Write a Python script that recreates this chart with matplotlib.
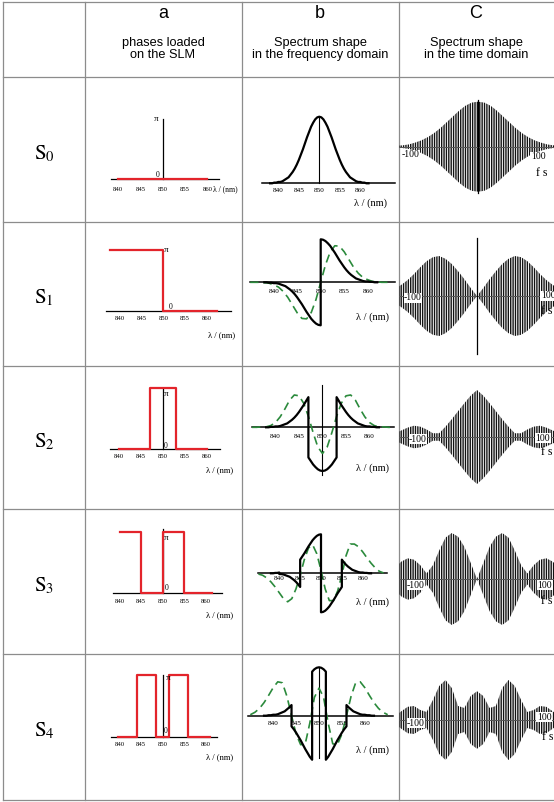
import numpy as np
import matplotlib
matplotlib.use('Agg')
import matplotlib.pyplot as plt

plt.rcParams['mathtext.fontset'] = 'stix'
plt.rcParams['hatch.linewidth'] = 1.0

W, H = 554, 802

# ---------------- data ----------------
col_letters = ['a', 'b', 'C']
col_titles = ['phases loaded\non the SLM',
              'Spectrum shape\nin the frequency domain',
              'Spectrum shape\nin the time domain']
row_names = [r'$\mathrm{S}_0$', r'$\mathrm{S}_1$', r'$\mathrm{S}_2$',
             r'$\mathrm{S}_3$', r'$\mathrm{S}_4$']
tick_nm = [840, 845, 850, 855, 860]
tick_fs = [-100, 100]

# phase masks loaded on the SLM (wavelength in nm, phase in rad)
mask_nm = [
    [840, 860],
    [837.5, 850, 850, 862.5],
    [840, 847, 847, 853, 853, 860],
    [840, 845, 845, 850, 850, 855, 855, 861.5],
    [839.5, 844, 844, 848.5, 848.5, 851.5, 851.5, 856, 856, 861],
]
mask_phase = [
    [0, 0],
    [np.pi, np.pi, 0, 0],
    [0, 0, np.pi, np.pi, 0, 0],
    [np.pi, np.pi, 0, 0, np.pi, np.pi, 0, 0],
    [0, 0, np.pi, np.pi, 0, 0, np.pi, np.pi, 0, 0],
]

# spectral amplitude, 838 - 862 nm in 0.5 nm steps
spec_nm = np.arange(838, 862.5, 0.5)
spec_amp = [0.00, 0.00, 0.01, 0.01, 0.02, 0.02, 0.03, 0.05, 0.07, 0.09, 0.13, 0.17,
            0.22, 0.28, 0.35, 0.43, 0.51, 0.60, 0.69, 0.77, 0.85, 0.91, 0.96, 0.99,
            1.00,
            0.99, 0.96, 0.91, 0.85, 0.77, 0.69, 0.60, 0.51, 0.43, 0.35, 0.28, 0.22,
            0.17, 0.13, 0.09, 0.07, 0.05, 0.03, 0.02, 0.02, 0.01, 0.01, 0.00, 0.00]

# green dashed curves, 835 - 865 nm in 1 nm steps
green_nm = np.arange(835, 866)
green_S1 = [0, 0, 0, -0.01, -0.02, -0.06, -0.11, -0.21, -0.35, -0.53, -0.71, -0.84,
            -0.85, -0.70, -0.40, 0, 0.40, 0.70, 0.85, 0.84, 0.71, 0.53, 0.35, 0.21,
            0.11, 0.06, 0.02, 0.01, 0, 0, 0]
green_S2 = [0, 0, 0.01, 0.01, 0.04, 0.11, 0.24, 0.42, 0.62, 0.74, 0.72, 0.55, 0.25,
            -0.12, -0.45, -0.60, -0.45, -0.12, 0.25, 0.55, 0.72, 0.74, 0.62, 0.42,
            0.24, 0.11, 0.04, 0.01, 0.01, 0, 0]
green_S3 = [-0.02, -0.05, -0.12, -0.22, -0.35, -0.50, -0.65, -0.73, -0.65, -0.40,
            -0.05, 0.35, 0.65, 0.73, 0.50, 0.08, -0.40, -0.70, -0.70, -0.45, -0.05,
            0.45, 0.75, 0.75, 0.68, 0.55, 0.40, 0.26, 0.14, 0.05, 0.01]
green_S4 = [0.02, 0.07, 0.15, 0.27, 0.42, 0.58, 0.70, 0.68, 0.40, 0.0, -0.38, -0.60,
            -0.58, -0.15, 0.38, 0.57, 0.38, -0.15, -0.58, -0.60, -0.38, 0.0, 0.40,
            0.68, 0.70, 0.58, 0.42, 0.27, 0.15, 0.07, 0.02]
green_curves = [None, green_S1, green_S2, green_S3, green_S4]

# pulse envelopes in the time domain, -130 .. 130 fs in 10 fs steps
time_fs = np.arange(-130, 131, 10)
env_S0 = [0.02, 0.03, 0.05, 0.09, 0.14, 0.21, 0.30, 0.41, 0.54, 0.67, 0.80, 0.91, 0.98,
          1.00, 0.98, 0.91, 0.80, 0.67, 0.54, 0.41, 0.30, 0.21, 0.14, 0.09, 0.05, 0.03, 0.02]
env_S1 = [0.18, 0.28, 0.40, 0.55, 0.72, 0.87, 0.97, 1.00, 0.93, 0.80, 0.62, 0.42, 0.20,
          0.00, 0.20, 0.42, 0.62, 0.80, 0.93, 1.00, 0.97, 0.87, 0.72, 0.55, 0.40, 0.28, 0.18]
env_S2 = [0.08, 0.14, 0.20, 0.24, 0.22, 0.16, 0.08, 0.08, 0.22, 0.38, 0.55, 0.72, 0.88,
          1.00, 0.88, 0.72, 0.55, 0.38, 0.22, 0.08, 0.08, 0.16, 0.22, 0.24, 0.20, 0.14, 0.08]
env_S3 = [0.25, 0.38, 0.45, 0.42, 0.30, 0.12, 0.30, 0.62, 0.90, 1.00, 0.92, 0.70, 0.35,
          0.00, 0.35, 0.70, 0.92, 1.00, 0.90, 0.62, 0.30, 0.12, 0.30, 0.42, 0.45, 0.38, 0.25]
env_S4 = [0.10, 0.22, 0.33, 0.35, 0.25, 0.20, 0.50, 0.85, 1.00, 0.80, 0.35, 0.30, 0.60,
          0.72, 0.60, 0.30, 0.35, 0.80, 1.00, 0.85, 0.50, 0.20, 0.25, 0.35, 0.33, 0.22, 0.10]
envelopes = [env_S0, env_S1, env_S2, env_S3, env_S4]

# ---------------- layout (pixels) ----------------
grid_x = [3, 85, 242, 399]
grid_y = [2, 77, 222, 366, 509, 654, 800]
RED = '#e3242b'
GREEN = '#2b8a3c'
SERIF = 'Liberation Serif'
SANS = 'Liberation Sans'

# column a: 850 nm x, px/nm, axis y, px for pi, axis extent, tick dy, lambda label,
#           pi label offset, 0 label offset, black marker line height (in pi)
a_geom = [
    (162.7, 4.47, 179.3, 60.0, (838.5, 862.5), 10, (225, 189), (-7, 0), (-5, 4), 1.0),
    (163.3, 4.30, 310.7, 60.7, (836.6, 865.8), 8, (222, 335), (3, 0), (7.5, 4), None),
    (163.0, 4.38, 449.0, 61.0, (838.0, 863.0), 7, (220, 470), (3, -6), (3, 3.5), 1.0),
    (162.7, 4.30, 593.3, 61.6, (838.5, 863.7), 8, (220, 615), (3.5, -6), (4, 5), 1.04),
    (162.7, 4.30, 737.3, 62.0, (838.0, 862.7), 7, (220, 757), (5, -3), (3, 6), 1.0),
]
# column b: 850 nm x, px/nm, axis y, px per unit, axis extent, tick dy, lambda label, marker line
b_geom = [
    (319.3, 4.10, 183.3, 66.6, (836.0, 868.5), 7, (370, 203), (0, 1.0)),
    (320.7, 4.70, 282.3, 43.0, (835.0, 865.8), 9, (372, 317), None),
    (322.5, 4.70, 427.3, 43.7, (834.9, 865.2), 9, (372, 468), (-1.09, 0.97)),
    (321.0, 4.17, 573.3, 39.0, (835.0, 865.8), 5, (373, 602), None),
    (319.0, 4.58, 715.7, 48.4, (834.6, 866.2), 8, (372, 750), (-0.88, 1.0)),
]
# column c: t=0 x, px/fs, axis y, px per unit, centre line, tick label offsets, fs label
c_geom = [
    (478, 0.63, 146.7, 45, (-1.03, 1.03), [(-4, -8), (-3, -10)], (542, 173)),
    (477, 0.63, 296.0, 40, (-1.45, 1.45), [(-1, -2), (8, 0)], (547, 311)),
    (477, 0.63, 437.0, 47, None, [(4, -2), (3, -1)], (547, 452)),
    (477, 0.63, 579.0, 46, None, [(2, -6), (5, -6)], (547, 601)),
    (477, 0.63, 720.0, 40, None, [(2, -3), (4, 3)], (548, 737)),
]

fig = plt.figure(figsize=(W / 100, H / 100), dpi=100)
bg = fig.add_axes([0, 0, 1, 1])
bg.set_xlim(0, W)
bg.set_ylim(H, 0)
bg.axis('off')

for x in grid_x:
    bg.plot([x, x], [grid_y[0], grid_y[-1]], color='#8c8c8c', lw=0.9)
for y in grid_y:
    bg.plot([grid_x[0], W], [y, y], color='#8c8c8c', lw=0.9)

col_centers = [163, 320, 476]
for cx, letter, title in zip(col_centers, col_letters, col_titles):
    bg.text(cx, 13, letter, ha='center', va='center', fontsize=13, family=SANS)
    bg.text(cx, 49, title, ha='center', va='center', fontsize=9.2, family=SANS,
            linespacing=1.1)

for i, name in enumerate(row_names):
    yc = (grid_y[i + 1] + grid_y[i + 2]) / 2 + 4
    bg.text(44, yc, name, ha='center', va='center', fontsize=15)


def make_panel(x0, x1, y0, y1, xc, sx, yb, sy, xref):
    ax = fig.add_axes([x0 / W, 1 - y1 / H, (x1 - x0) / W, (y1 - y0) / H])
    ax.set_xlim(xref - (xc - x0) / sx, xref + (x1 - xc) / sx)
    ax.set_ylim(-(y1 - yb) / sy, (yb - y0) / sy)
    ax.axis('off')
    ax.patch.set_alpha(0)
    return ax


def phase_at(lam, mx, mp):
    for k in range(len(mx) - 1):
        if mx[k] < mx[k + 1] and mx[k] <= lam <= mx[k + 1]:
            return mp[k]
    return 0.0


def signed_spectrum(mx, mp):
    xs, ys = [], []
    for lam, g in zip(spec_nm, spec_amp):
        left = np.cos(phase_at(lam - 1e-6, mx, mp))
        right = np.cos(phase_at(lam + 1e-6, mx, mp))
        xs.append(lam)
        ys.append(g * left)
        if left != right:
            xs.append(lam)
            ys.append(g * right)
    return xs, ys


for i in range(5):
    r0, r1 = grid_y[i + 1], grid_y[i + 2]

    # ---- column a: phase masks ----
    xc, sx, yb, hpi, ext, tdy, lam_xy, pi_off, z_off, mark = a_geom[i]
    ax = make_panel(grid_x[1], grid_x[2], r0, r1, xc, sx, yb, hpi / np.pi, 850)
    ax.plot(ext, [0, 0], color='black', lw=0.9)
    if mark is not None:
        ax.plot([850, 850], [0, mark * np.pi], color='black', lw=0.9)
    ax.plot(mask_nm[i], mask_phase[i], color=RED, lw=1.6)
    for t in tick_nm:
        ax.annotate(str(t), (t, 0), xytext=(0, -tdy), textcoords='offset pixels',
                    ha='center', va='center', fontsize=4.8, family=SERIF)
    ax.annotate('π', (850, np.pi), xytext=pi_off, textcoords='offset pixels',
                ha='center', va='center', fontsize=6.5, family=SERIF)
    ax.annotate('0', (850, 0), xytext=z_off, textcoords='offset pixels',
                ha='center', va='center', fontsize=5.5, family=SERIF)
    bg.text(lam_xy[0], lam_xy[1], 'λ / (nm)', ha='center', va='center',
            fontsize=5.5 if i == 0 else 6.2, family=SERIF)

    # ---- column b: spectra ----
    xc, sx, yb, amp, ext, tdy, lam_xy, mark = b_geom[i]
    ax = make_panel(grid_x[2], grid_x[3], r0, r1, xc, sx, yb, amp, 850)
    ax.plot(ext, [0, 0], color='black', lw=1.1)
    if mark is not None:
        ax.plot([850, 850], mark, color='black', lw=0.8)
    if green_curves[i] is not None:
        ax.plot(green_nm, green_curves[i], color=GREEN, lw=1.2,
                linestyle=(0, (5, 3)))
    bx, by = signed_spectrum(mask_nm[i], mask_phase[i])
    ax.plot(bx, by, color='black', lw=1.6)
    for t in tick_nm:
        ax.annotate(str(t), (t, 0), xytext=(0, -tdy), textcoords='offset pixels',
                    ha='center', va='center', fontsize=5.2, family=SERIF)
    bg.text(lam_xy[0], lam_xy[1], 'λ / (nm)', ha='center', va='center',
            fontsize=7.5, family=SERIF)

    # ---- column c: time domain ----
    xc, st, yb, amp, cline, t_offs, fs_xy = c_geom[i]
    ax = make_panel(grid_x[3], W, r0, r1, xc, st, yb, amp, 0)
    env = np.array(envelopes[i])
    ax.fill_between(time_fs, -env, env, facecolor='none', edgecolor='#111111',
                    hatch='|' * 7, linewidth=0)
    ax.axhline(0, color='#555555', lw=0.7)
    if cline is not None:
        ax.plot([0, 0], cline, color='black', lw=0.9)
    for t, off in zip(tick_fs, t_offs):
        ax.annotate(str(t), (t, 0), xytext=off,
                    textcoords='offset pixels', ha='center', va='center',
                    fontsize=7, family=SERIF,
                    bbox=dict(boxstyle='square,pad=0.05', fc='white', ec='none'))
    bg.text(fs_xy[0], fs_xy[1], 'f s', ha='center', va='center', fontsize=8.5,
            family=SERIF)

fig.savefig('out.png', dpi=100)
